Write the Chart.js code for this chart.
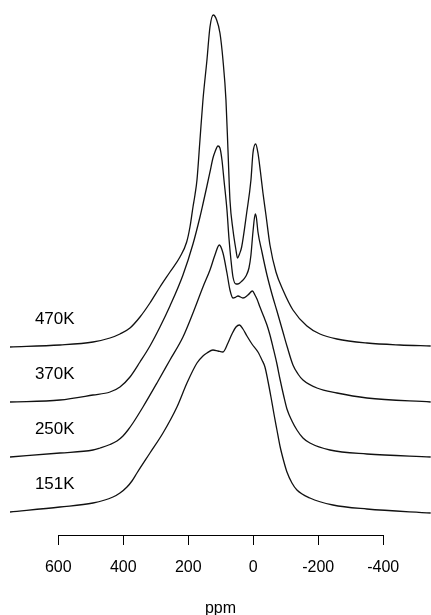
<!DOCTYPE html>
<html>
<head>
<meta charset="utf-8">
<script src="https://cdn.jsdelivr.net/npm/chart.js@4/dist/chart.umd.min.js"></script>
<style>
  html, body { margin: 0; padding: 0; background: #fff; }
  #wrap { width: 431px; height: 615px; position: relative; }
</style>
</head>
<body>
<div id="wrap"><canvas id="c"></canvas></div>
<script>
// Spectrum labels, top to bottom
const temperatures = ['470K', '370K', '250K', '151K'];
// Vertical stacking offset of each spectrum's baseline (intensity units)
const stackOffsets = [188, 133, 78, 23];
// Offset of each temperature label above its baseline
const labelLift = 28;
const labelPpm = 672;

// Axis tick positions (ppm)
const ppmTicks = [600, 400, 200, 0, -200, -400];

// 470K
const ppm470 = [748.6, 594.8, 493.2, 440.9, 410.2, 379.4, 348.6, 317.9, 287.1, 256.3, 225.6, 204.9, 194.8, 185.5, 179.4, 173.2, 164, 154.8, 142.5, 133.2, 123.1, 112.6, 102.5, 93.2, 84, 77.8, 71.7, 62.4, 53.2, 48.6, 42.4, 35.7, 20.3, 7.1, 0.9, -7.4, -14.5, -22.2, -29.9, -39.1, -51.4, -69.9, -91.4, -122.2, -165.2, -205.2, -257.5, -349.9, -451.4, -546];
const int470 = [0, 2, 5, 9, 13, 19, 30, 44, 60, 75, 90, 105, 120, 140, 152, 167, 207, 247, 287, 320, 332, 327, 314, 287, 247, 197, 147, 117, 97, 89, 93, 100, 134, 167, 194, 203, 194, 175, 154, 132, 102, 75, 57, 37, 21, 13, 8, 4, 2, 1];

// 370K
const ppm370 = [748.6, 594.8, 493.2, 440.9, 410.2, 379.4, 348.6, 317.9, 287.1, 256.3, 216.3, 185.5, 164, 154.8, 142.5, 133.2, 124, 117.9, 108.6, 102.5, 96.3, 90.1, 80.9, 74.8, 68.6, 62.4, 53.2, 47.1, 34.7, 22.4, 13.2, 7.1, 0.9, -6.2, -9.8, -14.5, -26.8, -42.2, -57.5, -72.9, -91.4, -103.7, -122.2, -137.6, -153, -196, -257.5, -349.9, -546];
const int370 = [0, 2, 7, 10, 15, 25, 40, 56, 75, 96, 127, 158, 185, 198, 216, 230, 244, 250, 256, 254, 242, 222, 192, 164, 142, 125, 118, 118, 121, 126, 134, 147, 170, 188, 184, 170, 150, 127, 108, 91, 70, 56, 37, 28, 22, 14, 9, 4, 0];

// 250K
const ppm250 = [748.6, 594.8, 493.2, 471.5, 440.9, 419.4, 400.9, 385.5, 370.2, 339.4, 296.3, 256.3, 216.3, 185.5, 154.8, 133.2, 117.9, 104.6, 93.2, 80.9, 71.7, 62.4, 53.2, 47.1, 31.7, 16.3, 2.5, -5.2, -11.4, -20.6, -32.9, -42.2, -51.4, -60.6, -72.9, -82.2, -94.5, -103.7, -119.1, -134.4, -153, -174.4, -236, -349.9, -546];
const int250 = [0, 4, 7, 9, 12.5, 16, 21, 27, 34, 50, 74, 97, 120, 144, 170, 187, 202, 212, 204, 184, 167, 159, 160, 161, 159, 162, 166, 162, 158, 150, 140, 132, 122, 110, 93, 78, 60, 48, 36, 27, 19, 14, 7, 3, 0];

// 151K
const ppm151 = [748.6, 594.8, 493.2, 431.7, 410.2, 388.6, 373.3, 357.9, 317.9, 277.8, 234.8, 204, 173.2, 154.8, 142.5, 124, 108.6, 93.2, 77.8, 65.5, 53.2, 42.4, 31.7, 19.4, 4, -14.5, -26.8, -36, -45.2, -54.5, -63.7, -72.9, -82.2, -94.5, -103.7, -119.1, -134.4, -174.4, -245.2, -349.9, -546];
const int151 = [0, 5, 9, 15, 19, 25, 31, 39, 59, 79, 105, 129, 149, 156, 159, 162, 161, 160, 169, 178, 185, 187, 183, 176, 168, 160, 152, 145, 131, 115, 98, 82, 66, 50, 40, 29, 22, 14, 7, 3, -1];

const spectraPpm = [ppm470, ppm370, ppm250, ppm151];
const spectraInt = [int470, int370, int250, int151];

const FONT = '"Liberation Sans", Arial, Helvetica, sans-serif';

const datasets = temperatures.map((t, i) => ({
  label: t,
  data: spectraPpm[i].map((p, k) => ({ x: p, y: spectraInt[i][k] + stackOffsets[i] })),
  borderColor: '#111',
  borderWidth: 1.3,
  pointRadius: 0,
  fill: false,
  cubicInterpolationMode: 'monotone'
}));

// Axis line spanning only the labelled tick range, plus temperature labels
const decorations = {
  id: 'decorations',
  afterDraw(chart) {
    const ctx = chart.ctx;
    const xs = chart.scales.x;
    const ys = chart.scales.y;
    ctx.save();
    ctx.strokeStyle = '#000';
    ctx.lineWidth = 1;
    const y0 = Math.round(xs.top) + 0.5;
    ctx.beginPath();
    ctx.moveTo(xs.getPixelForValue(ppmTicks[0]), y0);
    ctx.lineTo(xs.getPixelForValue(ppmTicks[ppmTicks.length - 1]), y0);
    ctx.stroke();

    ctx.fillStyle = '#000';
    ctx.font = '17px ' + FONT;
    ctx.textAlign = 'left';
    ctx.textBaseline = 'middle';
    temperatures.forEach((t, i) => {
      ctx.fillText(t, xs.getPixelForValue(labelPpm), ys.getPixelForValue(stackOffsets[i] + labelLift));
    });
    ctx.restore();
  }
};

new Chart(document.getElementById('c'), {
  type: 'line',
  data: { datasets },
  options: {
    responsive: true,
    maintainAspectRatio: false,
    animation: false,
    layout: { padding: { left: 10, right: 0, top: 0, bottom: 0 } },
    plugins: { legend: { display: false }, tooltip: { enabled: false } },
    scales: {
      x: {
        type: 'linear',
        reverse: true,
        min: -547,
        max: 748.6,
        afterBuildTicks(scale) {
          scale.ticks = ppmTicks.map(v => ({ value: v }));
        },
        border: { display: false },
        grid: {
          drawOnChartArea: false,
          drawTicks: true,
          tickLength: 10,
          color: '#000',
          lineWidth: 1
        },
        ticks: {
          color: '#000',
          padding: 13.4,
          maxRotation: 0,
          autoSkip: false,
          font: { family: FONT, size: 16 },
          callback: v => String(v)
        },
        title: {
          display: true,
          text: 'ppm',
          color: '#000',
          font: { family: FONT, size: 16, lineHeight: 0.8 },
          padding: { top: 11.2, bottom: 0 }
        }
      },
      y: {
        display: false,
        min: 0,
        max: 535
      }
    }
  },
  plugins: [decorations]
});
</script>
</body>
</html>
